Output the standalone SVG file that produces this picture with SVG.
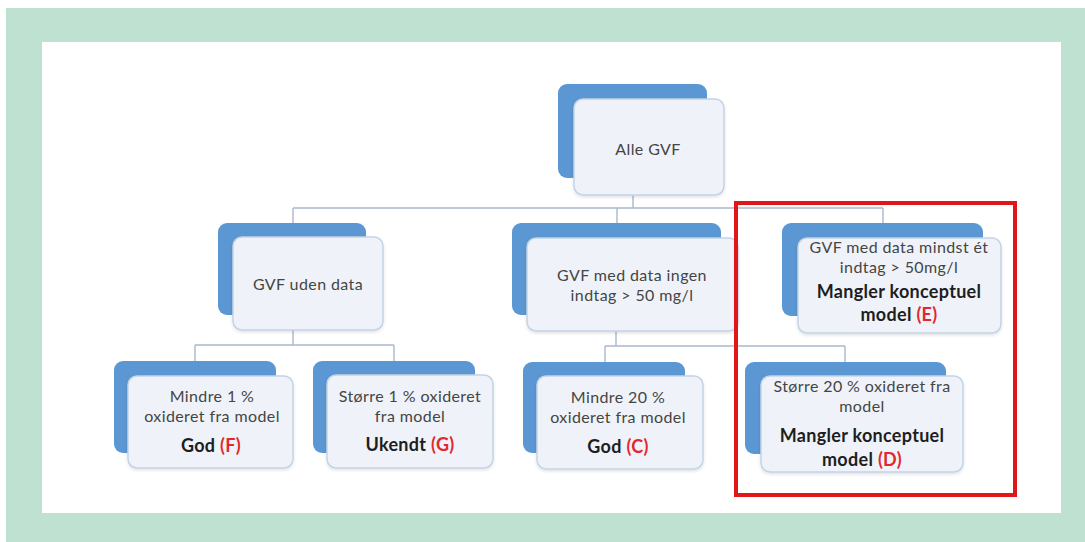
<svg xmlns="http://www.w3.org/2000/svg" width="1085" height="542" viewBox="0 0 1085 542">
  <style>
    .back { fill: #5b97d2; }
    .front { fill: #eff3f9; stroke: #c3d3e6; stroke-width: 1.5; }
    .conn { stroke: #a9b9cc; stroke-width: 1.4; fill: none; }
    .t { font-family: Lato, "Liberation Sans", sans-serif; font-size: 16px; letter-spacing: 0.4px; fill: #454545; text-anchor: middle; }
    .b { font-family: Lato, "Liberation Sans", sans-serif; font-size: 18px; font-weight: bold; letter-spacing: 0.3px; fill: #1e1e1e; text-anchor: middle; }
    .r { fill: #e2282e; }
  </style>
  <defs>
    <filter id="sh" x="-10%" y="-10%" width="120%" height="130%">
      <feDropShadow dx="0" dy="1.5" stdDeviation="1.5" flood-color="#000" flood-opacity="0.12"/>
    </filter>
  </defs>
  <rect x="6" y="8" width="1079" height="534" fill="#bfe1d1"/>
  <rect x="42" y="42" width="1019" height="471" fill="#ffffff"/>

  <g id="connectors" class="conn">
    <path d="M633 195 V208 M293 208 H883 M293 208 V223 M617 208 V223 M883 208 V223"/>
    <path d="M293 330 V345 M195 345 H394 M195 345 V361 M394 345 V361"/>
    <path d="M616 331 V346 M605 346 H845 M605 346 V362 M845 346 V362"/>
  </g>

  <g id="node-alle">
    <rect class="back" x="558" y="84" width="149" height="94" rx="9"/>
    <rect class="front" x="574" y="99" width="150" height="96" rx="9" filter="url(#sh)"/>
    <text class="t" x="648" y="155">Alle GVF</text>
  </g>

  <g id="node-uden">
    <rect class="back" x="218" y="223" width="148" height="92" rx="9"/>
    <rect class="front" x="233" y="237" width="150" height="93" rx="9" filter="url(#sh)"/>
    <text class="t" x="308" y="290">GVF uden data</text>
  </g>

  <g id="node-ingen">
    <rect class="back" x="512" y="223" width="209" height="92" rx="9"/>
    <rect class="front" x="527" y="238" width="211" height="93" rx="9" filter="url(#sh)"/>
    <text class="t" x="632" y="281">GVF med data ingen</text>
    <text class="t" x="632" y="301">indtag &gt; 50 mg/l</text>
  </g>

  <g id="node-E">
    <rect class="back" x="782" y="223" width="201" height="93" rx="9"/>
    <rect class="front" x="798" y="238" width="203" height="95" rx="9" filter="url(#sh)"/>
    <text class="t" x="899" y="253">GVF med data mindst ét</text>
    <text class="t" x="899" y="273">indtag &gt; 50mg/l</text>
    <text class="b" x="899" y="298">Mangler konceptuel</text>
    <text class="b" x="899" y="321">model <tspan class="r">(E)</tspan></text>
  </g>

  <g id="node-F">
    <rect class="back" x="114" y="361" width="162" height="92" rx="9"/>
    <rect class="front" x="128" y="376" width="165" height="92" rx="9" filter="url(#sh)"/>
    <text class="t" x="212" y="402">Mindre 1 %</text>
    <text class="t" x="212" y="422">oxideret fra model</text>
    <text class="b" x="211" y="452">God <tspan class="r">(F)</tspan></text>
  </g>

  <g id="node-G">
    <rect class="back" x="313" y="361" width="162" height="92" rx="9"/>
    <rect class="front" x="327" y="375" width="166" height="93" rx="9" filter="url(#sh)"/>
    <text class="t" x="410" y="402">Større 1 % oxideret</text>
    <text class="t" x="410" y="422">fra model</text>
    <text class="b" x="410" y="451">Ukendt <tspan class="r">(G)</tspan></text>
  </g>

  <g id="node-C">
    <rect class="back" x="523" y="362" width="162" height="91" rx="9"/>
    <rect class="front" x="537" y="376" width="166" height="93" rx="9" filter="url(#sh)"/>
    <text class="t" x="618" y="403">Mindre 20 %</text>
    <text class="t" x="618" y="423">oxideret fra model</text>
    <text class="b" x="618" y="453">God <tspan class="r">(C)</tspan></text>
  </g>

  <g id="node-D">
    <rect class="back" x="745" y="362" width="201" height="92" rx="9"/>
    <rect class="front" x="761" y="376" width="202" height="96" rx="9" filter="url(#sh)"/>
    <text class="t" x="862" y="392">Større 20 % oxideret fra</text>
    <text class="t" x="862" y="412">model</text>
    <text class="b" x="862" y="442">Mangler konceptuel</text>
    <text class="b" x="862" y="466">model <tspan class="r">(D)</tspan></text>
  </g>

  <rect id="highlight" x="736" y="203" width="279" height="292" fill="none" stroke="#e0161b" stroke-width="4"/>
</svg>
